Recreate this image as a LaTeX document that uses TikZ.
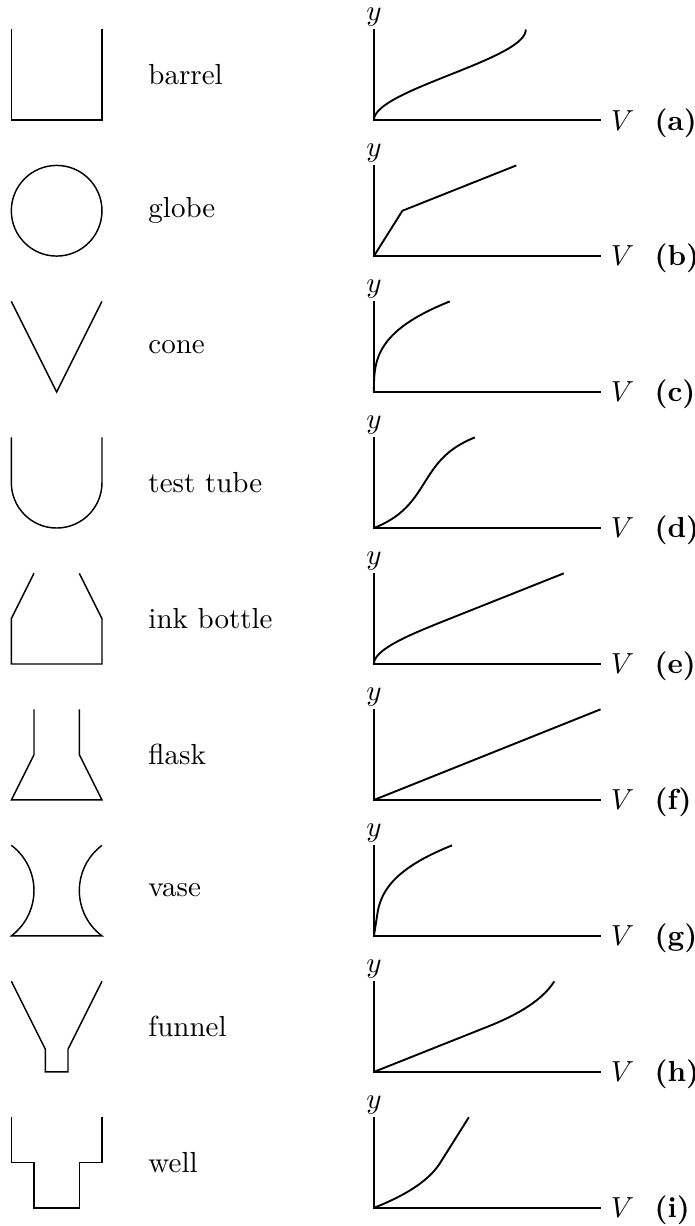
\documentclass[tikz,border=0pt]{standalone}
\usetikzlibrary{calc}
\begin{document}
\begin{tikzpicture}[x=15.63pt,y=15.63pt,
  shapeline/.style={line width=0.5pt},
  axisline/.style={line width=0.5pt},
  curveline/.style={line width=0.65pt},
  lbl/.style={anchor=west},
  ylbl/.style={anchor=south,inner sep=1pt},
  vlbl/.style={anchor=west},
  tagl/.style={anchor=base west}]
\def\kk{2.51327}
\useasboundingbox (0,0) rectangle (15.33,-27.05);

% axes and labels
\foreach \k/\t in {0/a,1/b,2/c,3/d,4/e,5/f,6/g,7/h,8/i}{
  \pgfmathsetmacro\Y{-1.65-3*\k}
  \coordinate (o\t) at (8.25,\Y-1);
  \coordinate (ytop\t) at (8.25,\Y+1);
  \coordinate (xend\t) at (13.25,\Y-1);
  \draw[axisline] (ytop\t) -- (o\t) -- (xend\t);
  \node[ylbl] (ylab\t) at (ytop\t) {$y$};
  \node[vlbl] (vlab\t) at (xend\t) {$V$};
  \node[tagl] (tag\t) at (vlab\t.base east) {\textbf{(\t)}};
}

% vessel names
\foreach \k/\nm/\txt in {0/barrel/barrel,1/globe/globe,2/cone/cone,3/tube/test tube,4/ink/ink bottle,5/flask/flask,6/vase/vase,7/funnel/funnel,8/well/well}{
  \pgfmathsetmacro\Y{-1.65-3*\k}
  \coordinate (c\nm) at (1.25,\Y);
  \node[lbl] (n\nm) at (3.05,\Y) {\txt};
}

% vessels
\begin{scope}[shift={(cbarrel)}]
  \draw[shapeline] (-1,1) -- (-1,-1) -- (1,-1) -- (1,1);
\end{scope}
\begin{scope}[shift={(cglobe)}]
  \draw[shapeline] (0,0) circle[radius=1];
\end{scope}
\begin{scope}[shift={(ccone)}]
  \draw[shapeline] (-1,1) -- (0,-1) -- (1,1);
\end{scope}
\begin{scope}[shift={(ctube)}]
  \draw[shapeline] (-1,1) -- (-1,0) arc[start angle=180,end angle=360,radius=1] -- (1,1);
\end{scope}
\begin{scope}[shift={(cink)}]
  \draw[shapeline] (-0.5,1) -- (-1,0) -- (-1,-1) -- (1,-1) -- (1,0) -- (0.5,1);
\end{scope}
\begin{scope}[shift={(cflask)}]
  \draw[shapeline] (-0.5,1) -- (-0.5,0) -- (-1,-1) -- (1,-1) -- (0.5,0) -- (0.5,1);
\end{scope}
\begin{scope}[shift={(cvase)}]
  \draw[shapeline] (-1,1) arc[start angle=53.13,end angle=-53.13,radius=1.25]
    -- (1,-1) arc[start angle=233.13,end angle=126.87,radius=1.25];
\end{scope}
\begin{scope}[shift={(cfunnel)}]
  \draw[shapeline] (-1,1) -- (-0.25,-0.5) -- (-0.25,-1) -- (0.25,-1) -- (0.25,-0.5) -- (1,1);
\end{scope}
\begin{scope}[shift={(cwell)}]
  \draw[shapeline] (-1,1) -- (-1,0) -- (-0.5,0) -- (-0.5,-1) -- (0.5,-1) -- (0.5,0) -- (1,0) -- (1,1);
\end{scope}

% graphs
\begin{scope}[shift={(oa)}]
  \draw[curveline] plot[domain=0:2,samples=120,variable=\t] ({\kk*(\t*\t-\t*\t*\t/3)},{\t});
\end{scope}
\begin{scope}[shift={(ob)}]
  \draw[curveline,line join=miter] (0,0) -- ({\kk*0.25},1) -- ({\kk*1.25},2);
\end{scope}
\begin{scope}[shift={(oc)}]
  \draw[curveline] plot[domain=0:2,samples=120,variable=\t] ({\kk*\t*\t*\t/12},{\t});
\end{scope}
\begin{scope}[shift={(od)}]
  \draw[curveline] plot[domain=0:2,samples=100,variable=\t]
    ({\kk*(4.625*(\t-1) - (\t-1)*(\t-1)*(\t-1)/3 - 1.75*(\t-1)*sqrt(abs(1.5625-(\t-1)*(\t-1))) - 2.734375*rad(asin((\t-1)/1.25)) + 0.4436)},{\t});
\end{scope}
\begin{scope}[shift={(oe)}]
  \draw[curveline] plot[domain=0:1,samples=80,variable=\t] ({\kk*(\t*\t-\t*\t*\t/3)},{\t}) -- ({\kk*(5/3)},2);
\end{scope}
\begin{scope}[shift={(of)}]
  \draw[curveline] (0,0) -- (5.0,2);
\end{scope}
\begin{scope}[shift={(og)}]
  \draw[curveline] (0,0) -- ({\kk*0.03125},0.5)
    -- plot[domain=0.5:2,samples=100,variable=\t] ({\kk*(\t*\t*\t/12+0.0208333)},{\t});
\end{scope}
\begin{scope}[shift={(oh)}]
  \draw[curveline] (0,0) -- (\kk,1)
    -- plot[domain=1:2,samples=80,variable=\t] ({\kk*(1+(2/3)*(1-(1.5-\t/2)*(1.5-\t/2)*(1.5-\t/2)))},{\t});
\end{scope}
\begin{scope}[shift={(oi)}]
  \draw[curveline] plot[domain=0:1,samples=80,variable=\t] ({\kk*(2/3)*(1-(1-\t/2)*(1-\t/2)*(1-\t/2))},{\t})
    -- ({\kk*0.833333},2);
\end{scope}
\end{tikzpicture}
\end{document}
